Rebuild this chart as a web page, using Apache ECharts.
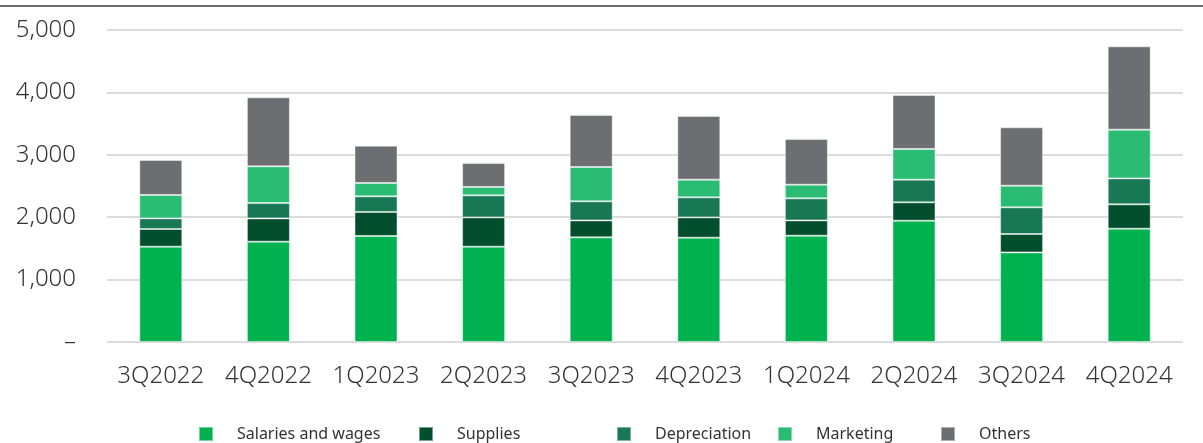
<!DOCTYPE html>
<html>
<head>
<meta charset="utf-8">
<script src="https://cdn.jsdelivr.net/npm/echarts@6/dist/echarts.min.js"></script>
<style>
  html, body { margin: 0; padding: 0; background: #fff; }
  #chart-container { width: 1203px; height: 443px; }
</style>
</head>
<body>
<div id="chart-container"></div>
<script>
const quarters = ['3Q2022', '4Q2022', '1Q2023', '2Q2023', '3Q2023', '4Q2023', '1Q2024', '2Q2024', '3Q2024', '4Q2024'];
const salaries = [1528, 1608, 1699, 1528, 1677, 1672, 1704, 1944, 1436, 1816];
const supplies = [283, 373, 385, 469, 272, 325, 245, 294, 295, 390];
const depreciation = [170, 247, 250, 353, 305, 321, 353, 364, 427, 416];
const marketing = [375, 587, 215, 135, 551, 284, 220, 492, 347, 781];
const others = [561, 1106, 598, 384, 834, 1021, 732, 865, 935, 1335];

const seriesNames = ['Salaries and wages', 'Supplies', 'Depreciation', 'Marketing', 'Others'];
const seriesColors = ['#00b24f', '#034f2d', '#187755', '#29bc72', '#6d6e71'];
const seriesData = [salaries, supplies, depreciation, marketing, others];
// legend items are not evenly spaced in the original
const legendLeft = [198, 418, 616, 777, 940];

const myChart = echarts.init(document.getElementById('chart-container'));

const font = "'Noto Sans', sans-serif";

const option = {
  animation: false,
  textStyle: { fontFamily: font },
  grid: { left: 107, right: 20, top: 30, bottom: 101, containLabel: false },
  legend: seriesNames.map((name, i) => ({
    data: [name],
    left: legendLeft[i],
    top: 426,
    padding: 0,
    itemWidth: 14,
    itemHeight: 14,
    itemGap: 0,
    icon: 'rect',
    textStyle: { fontFamily: font, fontSize: 16, color: '#333', padding: [0, 0, 0, 19] }
  })),
  xAxis: {
    type: 'category',
    data: quarters,
    axisLine: { show: false },
    axisTick: { show: false },
    axisLabel: { interval: 0, fontSize: 24, color: '#333', margin: 22, fontWeight: 300 }
  },
  yAxis: {
    type: 'value',
    min: 0,
    max: 5000,
    interval: 1000,
    axisLine: { show: false },
    axisTick: { show: false },
    splitLine: { lineStyle: { color: '#dcdcdc', width: 2 } },
    axisLabel: {
      fontSize: 24,
      color: '#333',
      margin: 31,
      fontWeight: 300,
      formatter: v => v === 0 ? '–' : v.toLocaleString('en-US')
    }
  },
  graphic: [{
    type: 'line',
    shape: { x1: 0, y1: 6, x2: 1203, y2: 6 },
    style: { stroke: '#3a3a3a', lineWidth: 1.5 }
  }],
  series: seriesNames.map((name, i) => ({
    name: name,
    type: 'bar',
    stack: 'total',
    barWidth: 43,
    data: seriesData[i],
    itemStyle: {
      color: seriesColors[i],
      borderColor: 'rgba(255,255,255,0.45)',
      borderWidth: 1
    }
  }))
};

myChart.setOption(option);
</script>
</body>
</html>
